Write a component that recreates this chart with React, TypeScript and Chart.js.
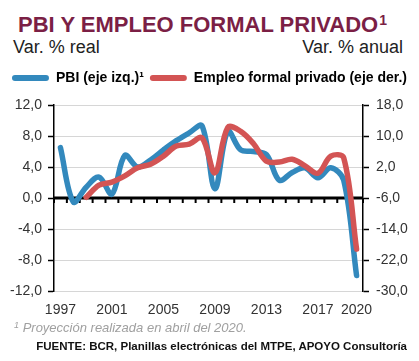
import React, { useEffect, useRef } from 'react';
import { Chart, registerables } from 'chart.js';

Chart.register(...registerables);

const years = ['1997','1998','1999','2000','2001','2002','2003','2004','2005','2006','2007','2008','2009','2010','2011','2012','2013','2014','2015','2016','2017','2018','2019','2020'];
const pbi = [6.5, -0.5, 1.4, 2.7, 0.5, 5.5, 4.0, 4.9, 6.2, 7.4, 8.4, 9.3, 1.2, 8.6, 6.2, 6.0, 5.6, 2.3, 3.3, 3.9, 2.6, 3.9, 2.3, -10.0];
const empleo = [null, null, -5.8, -2.7, -1.9, -0.3, 1.8, 2.7, 4.8, 7.4, 7.9, 9.5, 0.5, 12.2, 11.2, 8.0, 3.5, 3.3, 4.0, 2.3, 0.4, 4.8, 4.4, -19.2];
const shownYears = ['1997','2001','2005','2009','2013','2017','2020'];
const leftAxis = { min: -12, max: 12, step: 4 };
const rightAxis = { min: -30, max: 18, step: 8 };

const BLUE = '#3389BD';
const RED = '#D35454';
const FONT = '"Liberation Sans", Arial, sans-serif';

const fmt = (v: number | string) => Number(v).toFixed(1).replace('.', ',');

const zeroLine = {
  id: 'zeroLine',
  beforeDatasetsDraw(chart: any) {
    const { ctx, chartArea, scales } = chart;
    const xs = scales.x;
    const y0 = scales.y.getPixelForValue(0);
    ctx.save();
    ctx.strokeStyle = '#000';
    ctx.lineWidth = 3;
    ctx.beginPath();
    ctx.moveTo(chartArea.left, y0);
    ctx.lineTo(chartArea.right, y0);
    ctx.stroke();
    const n = years.length;
    const step = xs.getPixelForValue(1) - xs.getPixelForValue(0);
    const start = xs.getPixelForValue(0) - step / 2;
    ctx.lineWidth = 2;
    for (let i = 0; i <= n; i++) {
      const px = start + i * step;
      ctx.beginPath();
      ctx.moveTo(px, y0);
      ctx.lineTo(px, y0 + 5);
      ctx.stroke();
    }
    ctx.restore();
  },
};

const legendGap = {
  id: 'legendGap',
  beforeInit(chart: any) {
    const orig = chart.legend.fit;
    chart.legend.fit = function () {
      orig.call(this);
      this.height += 10;
    };
  },
};

export default function App() {
  const ref = useRef<HTMLCanvasElement | null>(null);

  useEffect(() => {
    if (!ref.current) return;
    Chart.defaults.font.family = FONT;
    const chart = new Chart(ref.current, {
      type: 'line',
      data: {
        labels: years,
        datasets: [
          {
            label: 'PBI (eje izq.)¹',
            data: pbi,
            yAxisID: 'y',
            borderColor: BLUE,
            backgroundColor: BLUE,
            borderWidth: 5.5,
            pointRadius: 0,
            tension: 0.35,
            borderCapStyle: 'round',
            borderJoinStyle: 'round',
            order: 2,
          },
          {
            label: 'Empleo formal privado (eje der.)',
            data: empleo,
            yAxisID: 'y1',
            borderColor: RED,
            backgroundColor: RED,
            borderWidth: 5.5,
            pointRadius: 0,
            tension: 0.35,
            borderCapStyle: 'round',
            borderJoinStyle: 'round',
            order: 1,
          },
        ],
      },
      options: {
        animation: false,
        responsive: false,
        maintainAspectRatio: false,
        layout: { padding: 0 },
        plugins: {
          tooltip: { enabled: false },
          legend: {
            position: 'top',
            labels: {
              boxWidth: 37,
              boxHeight: 6,
              useBorderRadius: true,
              borderRadius: 3,
              padding: 6,
              color: '#000',
              font: { size: 14, weight: 'bold', family: FONT },
              sort: (a: any, b: any) => a.datasetIndex - b.datasetIndex,
              generateLabels: (c: any) =>
                (Chart.defaults.plugins.legend.labels as any)
                  .generateLabels(c)
                  .map((l: any) => ({ ...l, lineWidth: 0 })),
            },
          },
        },
        scales: {
          x: {
            type: 'category',
            offset: true,
            grid: { display: false, drawTicks: false },
            border: { display: false },
            ticks: {
              autoSkip: false,
              maxRotation: 0,
              padding: 11,
              color: '#333',
              font: { size: 14, family: FONT },
              callback: (_v: any, i: number) => (shownYears.includes(years[i]) ? years[i] : ''),
            },
            afterFit: (s: any) => {
              s.height = 34;
            },
          },
          y: {
            position: 'left',
            min: leftAxis.min,
            max: leftAxis.max,
            ticks: {
              stepSize: leftAxis.step,
              padding: 6,
              color: '#333',
              font: { size: 14, family: FONT },
              callback: (v: any) => fmt(v),
            },
            grid: { color: '#D6D6D6', lineWidth: 1, tickColor: '#000', tickLength: 6, tickWidth: 1.5 },
            border: { color: '#000', width: 1.5 },
            afterFit: (s: any) => {
              s.width = 54;
            },
          },
          y1: {
            position: 'right',
            min: rightAxis.min,
            max: rightAxis.max,
            ticks: {
              stepSize: rightAxis.step,
              padding: 7,
              color: '#333',
              font: { size: 14, family: FONT },
              callback: (v: any) => fmt(v),
            },
            grid: { drawOnChartArea: false, tickColor: '#000', tickLength: 6, tickWidth: 1.5 },
            border: { color: '#000', width: 1.5 },
            afterFit: (s: any) => {
              s.width = 56;
            },
          },
        },
      },
      plugins: [zeroLine, legendGap],
    } as any);
    return () => chart.destroy();
  }, []);

  return (
    <div
      style={{
        position: 'fixed',
        left: 0,
        top: 0,
        width: 419,
        height: 361,
        background: '#fff',
        fontFamily: FONT,
        overflow: 'hidden',
      }}
    >
      <div
        style={{
          position: 'absolute',
          left: 18,
          top: 14,
          fontSize: 22,
          lineHeight: 1,
          fontWeight: 'bold',
          color: '#7B1F45',
          whiteSpace: 'nowrap',
        }}
      >
        PBI Y EMPLEO FORMAL PRIVADO
        <span style={{ fontSize: 14, position: 'relative', top: -7, marginLeft: 1 }}>1</span>
      </div>
      <div style={{ position: 'absolute', left: 13, top: 38, fontSize: 18, lineHeight: 1, color: '#222' }}>
        Var. % real
      </div>
      <div style={{ position: 'absolute', right: 16, top: 38, fontSize: 18, lineHeight: 1, color: '#222' }}>
        Var. % anual
      </div>
      <canvas
        ref={ref}
        width={419}
        height={260}
        style={{ position: 'absolute', left: 0, top: 65, width: 419, height: 260 }}
      />
      <div
        style={{
          position: 'absolute',
          left: 14,
          top: 321,
          fontSize: 13,
          lineHeight: 1,
          fontStyle: 'italic',
          color: '#A0A0A0',
          whiteSpace: 'nowrap',
        }}
      >
        <span style={{ fontSize: 9, position: 'relative', top: -4 }}>1</span> Proyección realizada en abril del 2020.
      </div>
      <div
        style={{
          position: 'absolute',
          right: 12,
          top: 341,
          fontSize: 11.5,
          lineHeight: 1,
          fontWeight: 'bold',
          color: '#111',
          whiteSpace: 'nowrap',
        }}
      >
        FUENTE: BCR, Planillas electrónicas del MTPE, APOYO Consultoría
      </div>
    </div>
  );
}
